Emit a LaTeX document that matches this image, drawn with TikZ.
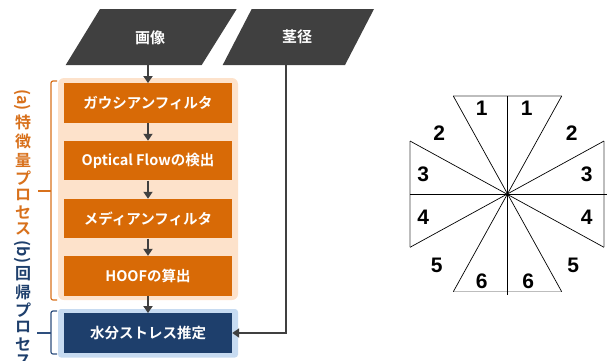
\documentclass[tikz,border=0pt]{standalone}
\usepackage{fontspec}
\newfontfamily\jp{Noto Sans CJK JP}[UprightFont={* Bold},BoldFont={* Bold}]
\newfontfamily\numf{Liberation Sans}
\usetikzlibrary{arrows.meta}
\definecolor{dgray}{HTML}{404040}
\definecolor{orng}{HTML}{D86A06}
\definecolor{peach}{HTML}{FDE2CB}
\definecolor{navy}{HTML}{1E3F6C}
\definecolor{lblue}{HTML}{C7DBF1}
\definecolor{obr}{HTML}{D8711C}
\definecolor{bbr}{HTML}{2E4F7E}
\definecolor{edgegray}{HTML}{BDBDBD}
\tikzset{
  obox/.style={fill=orng, text=white, minimum width=168pt, minimum height=39.5pt, inner sep=0pt, font=\jp\fontsize{14.5}{17}\selectfont},
  nbox/.style={fill=navy, text=white, minimum width=168pt, minimum height=39.5pt, inner sep=0pt, font=\jp\fontsize{14.5}{17}\selectfont},
  arr/.style={draw=dgray, line width=2.3pt, -{Triangle[width=9pt,length=7pt]}},
  para/.style={fill=dgray},
  ptext/.style={text=white, font=\jp\fontsize{15}{18}\selectfont},
  vto/.style={text=obr, font=\jp\fontsize{16}{18}\selectfont, inner sep=0pt},
  vtb/.style={text=navy, font=\jp\fontsize{16}{18}\selectfont, inner sep=0pt},
  numl/.style={font=\numf\bfseries\fontsize{21}{24}\selectfont, inner sep=0pt},
  edge/.style={draw=edgegray, line width=1.2pt},
  ray/.style={draw=black, line width=0.7pt}
}
\begin{document}
\begin{tikzpicture}[x=1pt,y=-1pt]
\useasboundingbox (0,0) rectangle (610,360);
% input parallelograms
\fill[para] (100,9) -- (236.7,9) -- (201.7,65) -- (65.7,65) -- cycle;
\node[ptext] (img) at (150,38) {画像};
\coordinate (imgb) at (148,65);
\fill[para] (251.7,9) -- (374,9) -- (345,65) -- (222.7,65) -- cycle;
\node[ptext] (stem) at (297,37) {茎径};
\coordinate (stemb) at (286,65);
% group backgrounds
\fill[peach, rounded corners=6pt] (58,78) rectangle (238,300);
\fill[lblue, rounded corners=3pt] (58,309) rectangle (238,357.5);
% boxes
\node[obox] (b1) at (148,103) {ガウシアンフィルタ};
\node[obox] (b2) at (148,160.7) {Optical Flowの検出};
\node[obox] (b3) at (148,218.7) {メディアンフィルタ};
\node[obox] (b4) at (148,275.8) {HOOFの算出};
\node[nbox] (b5) at (148,333) {水分ストレス推定};
% arrows
\draw[arr] (imgb) -- (b1.north);
\draw[arr] (b1) -- (b2);
\draw[arr] (b2) -- (b3);
\draw[arr] (b3) -- (b4);
\draw[arr] (b4) -- (b5);
\draw[arr] (stemb) -- (286,333) -- (b5.east);
% brackets
\draw[obr, line width=1.2pt, rounded corners=2pt] (57,81) -- (51,81) -- (51,300) -- (57,300);
\draw[obr, line width=1.2pt] (38,191) -- (51,191);
\draw[bbr, line width=1.2pt, rounded corners=2pt] (57,311) -- (51,311) -- (51,354) -- (57,354);
\draw[bbr, line width=1.2pt] (37,333) -- (51,333);
% vertical text (a)
\node[vto] (pa) at (23,100) {\rotatebox{-90}{(a)}};
\node[vto] (a1) at (23,122) {特};
\node[vto] (a2) at (23,141) {徴};
\node[vto] (a3) at (23,160) {量};
\node[vto] (a4) at (23,178) {プ};
\node[vto] (a5) at (23,195) {ロ};
\node[vto] (a6) at (23,212) {セ};
\node[vto] (a7) at (23,229) {ス};
% vertical text (b)
\node[vtb] (pb) at (23,252) {\rotatebox{-90}{(b)}};
\node[vtb] (c1) at (23,274) {回};
\node[vtb] (c2) at (23,292) {帰};
\node[vtb] (c3) at (23,310) {プ};
\node[vtb] (c4) at (23,327) {ロ};
\node[vtb] (c5) at (23,344) {セ};
\node[vtb] (c6) at (23,361) {ス};
% HOOF bins diagram
\coordinate (ctr) at (507.3,194.3);
\draw[edge] (453.3,96) -- (561.7,96);
\draw[edge] (453.3,291.7) -- (561.7,291.7);
\draw[edge] (410,141) -- (410,247.3);
\draw[edge] (604,141) -- (604,247.3);
\draw[ray] (453.3,96) -- (561.7,291.7);
\draw[ray] (561.7,96) -- (453.3,291.7);
\draw[ray] (410,141) -- (604,247.3);
\draw[ray] (604,141) -- (410,247.3);
\draw[ray] (507.3,96) -- (507.3,295);
\draw[ray] (410,194.3) -- (607,194.3);
\fill (ctr) circle (1.6pt);
\node[numl] (n1l) at (481.7,108.3) {1};
\node[numl] (n1r) at (526.7,108.3) {1};
\node[numl] (n2l) at (439.3,133.3) {2};
\node[numl] (n2r) at (571.7,133.3) {2};
\node[numl] (n3l) at (423.3,174) {3};
\node[numl] (n3r) at (586.7,174) {3};
\node[numl] (n4l) at (423.3,217.3) {4};
\node[numl] (n4r) at (586.7,217.3) {4};
\node[numl] (n5l) at (436.7,265) {5};
\node[numl] (n5r) at (573.3,265) {5};
\node[numl] (n6l) at (481.7,281.7) {6};
\node[numl] (n6r) at (528.3,281.7) {6};
\end{tikzpicture}
\end{document}
